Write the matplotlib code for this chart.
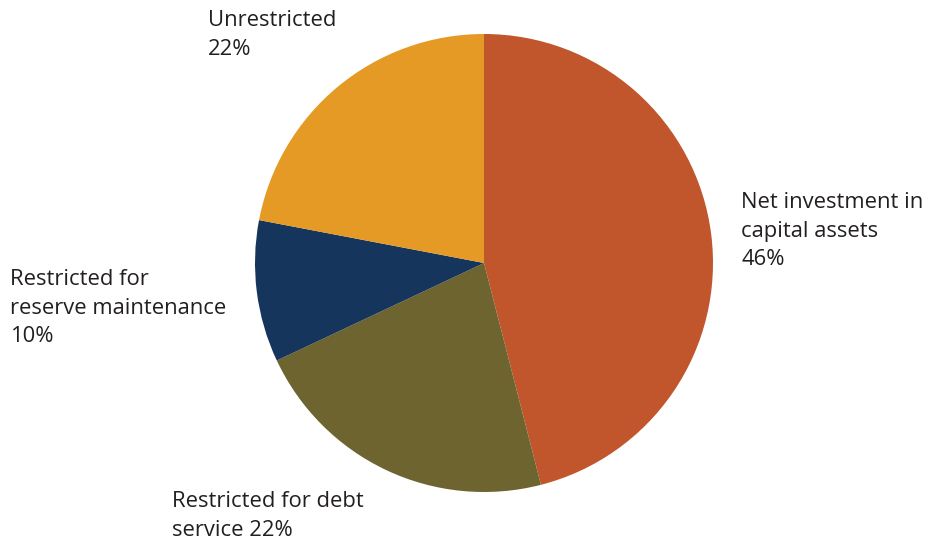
import matplotlib.pyplot as plt

labels = ['Net investment in\ncapital assets', 'Restricted for debt\nservice', 'Restricted for\nreserve maintenance', 'Unrestricted']
values = [46, 22, 10, 22]
colors = ['#C1562C', '#6D6430', '#15355C', '#E49A24']
# line break between label and percentage
seps = ['\n', ' ', '\n', '\n']

plt.rcParams['font.family'] = ['Open Sans', 'DejaVu Sans']

fig = plt.figure(figsize=(9.31, 5.5), dpi=100)
ax = fig.add_axes([0, 0, 1, 1])
ax.set_aspect('equal')
ax.axis('off')

# y axis is inverted, so counterclock=True runs clockwise on screen
ax.pie(values, colors=colors, startangle=-90, counterclock=True,
       center=(484, 263), radius=229, wedgeprops={'linewidth': 0})
ax.set_xlim(0, 931)
ax.set_ylim(550, 0)

# label positions (left x, vertical centre)
pos = [(741, 231), (172, 516), (10, 308), (208, 35)]
for lab, v, sep, (x, y) in zip(labels, values, seps, pos):
    ax.text(x, y, f'{lab}{sep}{v}%', ha='left', va='center',
            fontsize=15.8, color='#231F20', linespacing=1.45)

fig.savefig('out.png', dpi=100)
